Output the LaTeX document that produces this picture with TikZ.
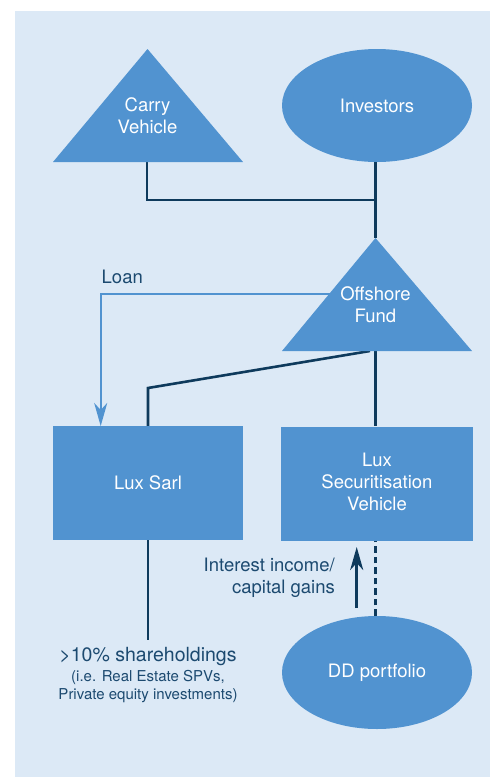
\documentclass[tikz,border=0pt]{standalone}
\usepackage{fontspec}
\setmainfont{TeX Gyre Heros}
\usetikzlibrary{arrows.meta,shapes.geometric}
\definecolor{bgblue}{HTML}{DCE9F6}
\definecolor{boxblue}{HTML}{5193D0}
\definecolor{linedark}{HTML}{0E3A5C}
\definecolor{textdark}{HTML}{1C4A70}
\begin{document}
\begin{tikzpicture}[x=1pt,y=-1pt,
  shapefill/.style={fill=boxblue, draw=none},
  ellnode/.style={ellipse, shapefill, minimum width=190pt, minimum height=113pt, inner sep=0pt},
  boxnode/.style={rectangle, shapefill, minimum height=114pt, inner sep=0pt},
  intext/.style={text=white, font=\fontsize{18.5}{22}\selectfont, align=center, inner sep=0pt},
  darkline/.style={draw=linedark, line width=2.6pt},
  loanline/.style={draw=boxblue, line width=2.4pt},
  tiparrow/.style={-{Stealth[length=23pt, width=13pt, inset=7pt]}},
  lbltext/.style={text=textdark, inner sep=0pt}
]
\useasboundingbox (0,0) rectangle (490,777);
\fill[bgblue] (15,11) rectangle (490,777);

% named coordinates for triangle corners and connector bends
\coordinate (cvtop) at (147.5,49);
\coordinate (cvl) at (53,162);
\coordinate (cvr) at (243,162);
\coordinate (cvb) at (147,162);
\coordinate (ofa) at (375.5,238);
\coordinate (ofl) at (282,351);
\coordinate (ofr) at (472,351);
\coordinate (ofb) at (375.5,351);
\coordinate (ofs) at (370,351);
\coordinate (jn) at (375.5,200);
\coordinate (bend) at (148,388);
\coordinate (loanstart) at (345,294);
\coordinate (loanend) at (100.7,426);
\coordinate (shend) at (148,640);
\coordinate (ia1) at (356.7,608);
\coordinate (ia2) at (356.7,547);

% shapes
\node[ellnode] (inv) at (377,105.5) {};
\node[boxnode, minimum width=190pt] (sarl) at (148,483) {};
\node[boxnode, minimum width=192pt] (sec) at (377,483.5) {};
\node[ellnode] (dd) at (377,672.5) {};

% connectors
\draw[darkline] (cvb) |- (jn);
\draw[darkline] (inv.south -| ofa) -- (ofa);
\draw[darkline] (ofb) -- (sec.north -| ofb);
\draw[darkline] (ofs) -- (bend) -- (sarl.north);
\draw[loanline, tiparrow] (loanstart) -| (loanend);
\draw[darkline] (sarl.south) -- (shend);
\draw[draw=linedark, line width=2.6pt, dash pattern=on 6.5pt off 4pt] (dd.north -| ofa) -- (sec.south -| ofa);
\draw[darkline, tiparrow] (ia1) -- (ia2);

% triangles
\fill[boxblue] (cvtop) -- (cvr) -- (cvl) -- cycle;
\fill[boxblue] (ofa) -- (ofr) -- (ofl) -- cycle;

% texts
\node[intext] (cvtext) at (147.5,115.5) {Carry\\Vehicle};
\node[intext] (invtext) at (inv.center) {Investors};
\node[intext] (oftext) at (375.5,305) {Offshore\\Fund};
\node[intext] (sarltext) at (sarl.center) {Lux Sarl};
\node[intext] (sectext) at (377,482) {Lux\\Securitisation\\Vehicle};
\node[intext] (ddtext) at (dd.center) {DD portfolio};
\node[lbltext, anchor=west, font=\fontsize{18.5}{22}\selectfont] (loanlbl) at (101.5,277) {Loan};
\node[lbltext, anchor=east, align=right, font=\fontsize{18.5}{22}\selectfont] (inclbl) at (335,577.5) {Interest income/\\capital gains};
\node[lbltext, font=\fontsize{19.5}{22}\selectfont] (shlbl) at (148,657) {>10\% shareholdings};
\node[lbltext, align=center, font=\fontsize{15}{18}\selectfont] (shsub) at (148,687) {(i.e. Real Estate SPVs,\\Private equity investments)};
\end{tikzpicture}
\end{document}
